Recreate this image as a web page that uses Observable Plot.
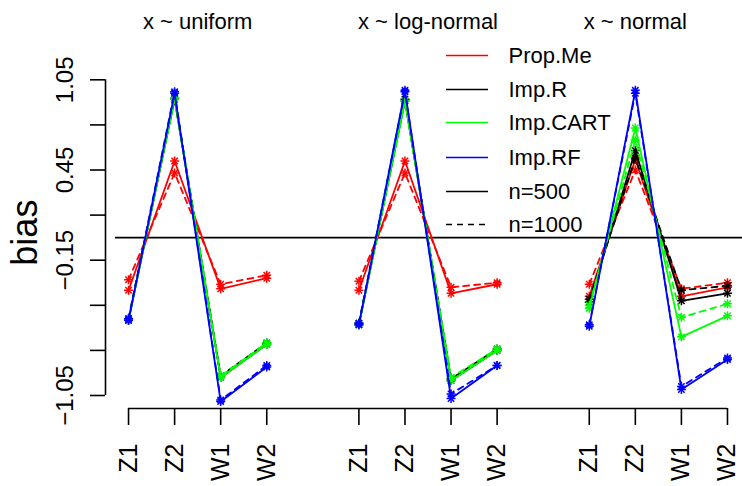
<!DOCTYPE html>
<html>
<head>
<meta charset="utf-8">
<script src="https://cdn.jsdelivr.net/npm/d3@7"></script>
<script src="https://cdn.jsdelivr.net/npm/@observablehq/plot@0.6"></script>
<style>
  html, body { margin: 0; padding: 0; background: #fff; }
  #chart svg { display: block; }
</style>
</head>
<body>
<div id="chart"></div>
<script>
// ---- data ----
const xLabels = ["Z1", "Z2", "W1", "W2"];
const panelTitles = ["x ~ uniform", "x ~ log-normal", "x ~ normal"];
const methods = ["Prop.Me", "Imp.R", "Imp.CART", "Imp.RF"];
const sizes = ["n=500", "n=1000"];
const yTicks = [1.05, 0.75, 0.45, 0.15, -0.15, -0.45, -0.75, -1.05];
const yTickLabels = ["1.05", "", "0.45", "", "\u22120.15", "", "", "\u22121.05"];

// bias values [Z1, Z2, W1, W2], per panel -> method -> n
const uniform500  = { "Prop.Me": [-0.35, 0.51, -0.34, -0.27], "Imp.R": [-0.55, 0.92, -0.93, -0.71], "Imp.CART": [-0.55, 0.93, -0.93, -0.71], "Imp.RF": [-0.55, 0.96, -1.09, -0.86] };
const uniform1000 = { "Prop.Me": [-0.28, 0.43, -0.31, -0.25], "Imp.R": [-0.54, 0.93, -0.92, -0.70], "Imp.CART": [-0.54, 0.92, -0.92, -0.70], "Imp.RF": [-0.54, 0.97, -1.08, -0.85] };
const lognorm500  = { "Prop.Me": [-0.35, 0.51, -0.37, -0.31], "Imp.R": [-0.58, 0.91, -0.95, -0.75], "Imp.CART": [-0.58, 0.91, -0.95, -0.75], "Imp.RF": [-0.58, 0.98, -1.07, -0.85] };
const lognorm1000 = { "Prop.Me": [-0.29, 0.43, -0.33, -0.30], "Imp.R": [-0.57, 0.92, -0.94, -0.74], "Imp.CART": [-0.57, 0.91, -0.93, -0.74], "Imp.RF": [-0.57, 0.97, -1.04, -0.85] };
const normal500   = { "Prop.Me": [-0.39, 0.52, -0.39, -0.33], "Imp.R": [-0.43, 0.58, -0.42, -0.37], "Imp.CART": [-0.47, 0.73, -0.66, -0.52], "Imp.RF": [-0.59, 0.98, -1.01, -0.81] };
const normal1000  = { "Prop.Me": [-0.31, 0.45, -0.34, -0.30], "Imp.R": [-0.41, 0.53, -0.35, -0.32], "Imp.CART": [-0.45, 0.65, -0.53, -0.44], "Imp.RF": [-0.58, 0.96, -0.99, -0.80] };

const methodColors = { "Prop.Me": "#FF0000", "Imp.R": "#000000", "Imp.CART": "#00FF00", "Imp.RF": "#0000FF" };

// ---- build table ----
const panelData = [[uniform500, uniform1000], [lognorm500, lognorm1000], [normal500, normal1000]];
const rows = [];
panelData.forEach((pair, p) => {
  pair.forEach((tbl, s) => {
    methods.forEach(m => {
      tbl[m].forEach((v, i) => {
        rows.push({ panel: p, n: sizes[s], method: m, label: xLabels[i], pos: p * 5 + i + 1, value: v });
      });
    });
  });
});
const xTicks = [];
panelTitles.forEach((t, p) => xLabels.forEach((l, i) => xTicks.push({ pos: p * 5 + i + 1, label: l })));
const titlePos = [2.5, 7.5, 12];

// ---- layout ----
const W = 742, H = 486;
const mL = 105, mR = 0, mT = 79.3, mB = 91;
const xDom = [0.5, 14.326], yDom = [-1.05, 1.05];
const X = px => xDom[0] + (px - mL) * (xDom[1] - xDom[0]) / (W - mL - mR);
const Y = py => yDom[1] - (py - mT) * (yDom[1] - yDom[0]) / (H - mT - mB);

const legendItems = [
  { label: "Prop.Me", color: methodColors["Prop.Me"], dash: null },
  { label: "Imp.R", color: methodColors["Imp.R"], dash: null },
  { label: "Imp.CART", color: methodColors["Imp.CART"], dash: null },
  { label: "Imp.RF", color: methodColors["Imp.RF"], dash: null },
  { label: "n=500", color: "#000", dash: null },
  { label: "n=1000", color: "#000", dash: "6,5" }
];
const legendRowsPx = [55, 89, 122, 157, 191, 224];
legendItems.forEach((d, i) => d.y = Y(legendRowsPx[i]));

const font = "'Liberation Sans', Arial, Helvetica, sans-serif";
const dash = "6,5";
const lw = 1.8;

const marks = [];
// zero line
marks.push(Plot.ruleY([0], { stroke: "#000", strokeWidth: 1.6, insetLeft: 10 }));

// series
methods.forEach(m => {
  const c = methodColors[m];
  const solid = rows.filter(d => d.method === m && d.n === "n=500");
  const dashed = rows.filter(d => d.method === m && d.n === "n=1000");
  marks.push(Plot.line(solid, { x: "pos", y: "value", z: "panel", stroke: c, strokeWidth: lw }));
  marks.push(Plot.line(dashed, { x: "pos", y: "value", z: "panel", stroke: c, strokeWidth: lw, strokeDasharray: dash }));
  const pts = solid.concat(dashed);
  marks.push(Plot.dot(pts, { x: "pos", y: "value", symbol: "plus", r: 3, stroke: c, fill: "none", strokeWidth: 1.5 }));
  marks.push(Plot.dot(pts, { x: "pos", y: "value", symbol: "times", r: 3, stroke: c, fill: "none", strokeWidth: 1.5 }));
});

// y axis
marks.push(Plot.ruleX([xDom[0]], { y1: yDom[0], y2: yDom[1], stroke: "#000", strokeWidth: 1.6 }));
marks.push(Plot.ruleY(yTicks, { y: d => d, x1: () => xDom[0], x2: () => xDom[0], insetLeft: -15, stroke: "#000", strokeWidth: 1.6 }));
marks.push(Plot.text(yTicks.map((v, i) => ({ v, t: yTickLabels[i] })).filter(d => d.t), {
  x: () => xDom[0], y: "v", text: "t", rotate: -90, dx: -40, fontSize: 24, fill: "#000", textAnchor: "middle"
}));
marks.push(Plot.text(["bias"], { x: () => xDom[0], y: () => 0, text: d => d, rotate: -90, dx: -80, dy: -5, fontSize: 36, fill: "#000" }));

// x axis
marks.push(Plot.ruleY([yDom[0]], { x1: () => 1, x2: () => 14, dy: 13, stroke: "#000", strokeWidth: 1.6 }));
marks.push(Plot.ruleX(xTicks, { x: "pos", y1: () => yDom[0], y2: () => yDom[0], dy: 13, insetBottom: -17, stroke: "#000", strokeWidth: 1.6 }));
marks.push(Plot.text(xTicks, { x: "pos", y: () => yDom[0], text: "label", rotate: -90, textAnchor: "end", dy: 48, fontSize: 25, fill: "#000" }));

// titles
marks.push(Plot.text(panelTitles.map((t, i) => ({ t, x: titlePos[i] })), { x: "x", y: () => yDom[1], text: "t", dy: -58, fontSize: 22, fill: "#000" }));

// legend
legendItems.forEach(d => {
  marks.push(Plot.ruleY([d], { y: "y", x1: () => X(446), x2: () => X(488), stroke: d.color, strokeWidth: 1.6, strokeDasharray: d.dash || undefined }));
});
marks.push(Plot.text(legendItems, { x: () => X(508), y: "y", text: "label", textAnchor: "start", fontSize: 22, fill: "#000" }));

const chart = Plot.plot({
  width: W, height: H,
  marginLeft: mL, marginRight: mR, marginTop: mT, marginBottom: mB,
  x: { domain: xDom, axis: null },
  y: { domain: yDom, axis: null },
  style: { fontFamily: font, background: "#fff", color: "#000" },
  marks
});
document.getElementById("chart").appendChild(chart);
</script>
</body>
</html>
